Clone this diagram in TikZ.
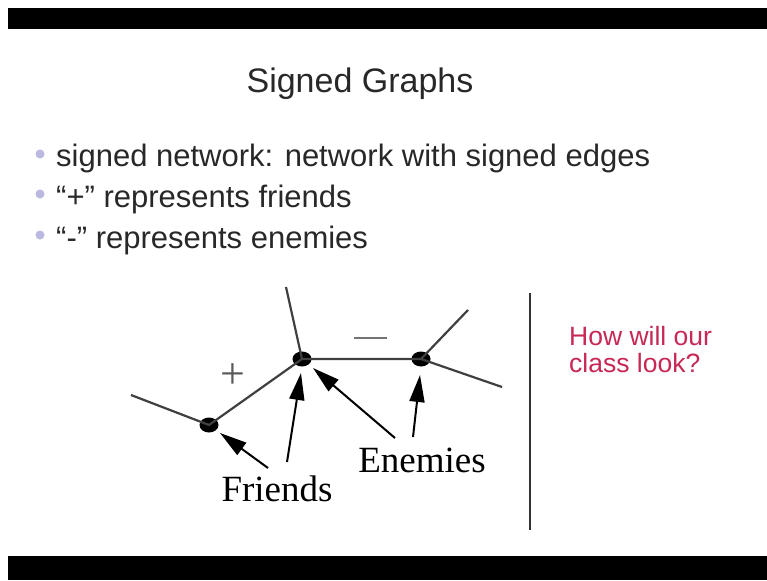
\documentclass[tikz,border=0pt]{standalone}
\usepackage{fontspec}
\setmainfont{Liberation Sans}
\newfontfamily\serifface{Liberation Serif}
\usetikzlibrary{arrows.meta,shapes.geometric}
\definecolor{txt}{RGB}{40,40,40}
\definecolor{bul}{RGB}{185,185,225}
\definecolor{ask}{RGB}{200,40,85}
\tikzset{
  bar/.style={fill=black,draw=none},
  bulletdot/.style={circle,fill=bul,inner sep=0pt,minimum size=9pt},
  bullettext/.style={anchor=base west,inner sep=0pt,text=txt,font=\fontsize{31}{36}\selectfont},
  asktext/.style={anchor=base west,inner sep=0pt,text=ask,font=\fontsize{26.5}{28}\selectfont},
  vert/.style={ellipse,fill=black,inner sep=0pt,minimum width=19pt,minimum height=15pt},
  edge/.style={draw=black!75,line width=2.2pt},
  pointer/.style={draw=black,line width=2pt,-{Triangle[length=27pt,width=15pt]}},
  lbl/.style={inner sep=0pt,font=\serifface\fontsize{37}{40}\selectfont},
  sign/.style={inner sep=0pt,text=black!65,font=\serifface\fontsize{44}{44}\selectfont}
}
\begin{document}
\begin{tikzpicture}[x=1pt,y=-1pt]
\useasboundingbox (0,0) rectangle (767,580);
\fill[white] (0,0) rectangle (767,580);
\fill[bar] (8,8) rectangle (767,29);
\fill[bar] (8,556) rectangle (767,580);
\node[anchor=base,text=txt,font=\fontsize{34}{40}\selectfont,inner sep=0pt] (title) at (360,93) {Signed Graphs};
\node[bulletdot] (b1) at (40,154) {};
\node[bullettext] (t1) at (56,167) {signed network: network with signed edges};
\node[bulletdot] (b2) at (40,194) {};
\node[bullettext] (t2) at (56,207) {“+\symbol{34} represents friends};
\node[bulletdot] (b3) at (40,235) {};
\node[bullettext] (t3) at (56,248) {“-\symbol{34} represents enemies};
% graph
\node[vert] (A) at (209,425) {};
\node[vert] (B) at (302,359) {};
\node[vert] (C) at (421,359) {};
\coordinate (Al) at (131,395);
\coordinate (Bu) at (286,287);
\coordinate (Cu) at (468,310);
\coordinate (Cd) at (502,387);
\draw[edge] (Al) -- (A.center) -- (B.center) -- (C.center) -- (Cu);
\draw[edge] (B.center) -- (Bu);
\draw[edge] (C.center) -- (Cd);
\node[sign] (plus) at (233,376) {+};
\draw[line width=1.6pt,black!55] (354,338) -- (387,338);
\node[lbl] (fr) at (277,489) {Friends};
\node[lbl] (en) at (422,460) {Enemies};
\coordinate (f1) at (268,468);
\coordinate (f2) at (287,462);
\coordinate (e1) at (395,438);
\coordinate (e2) at (413,437);
\draw[pointer] (f1) -- (220,433);
\draw[pointer] (f2) -- (301,373);
\draw[pointer] (e1) -- (313,368);
\draw[pointer] (e2) -- (420,375);
\draw[line width=2.2pt,black!80] (530,293) -- (530,530);
\node[asktext] (q1) at (569,345) {How will our};
\node[asktext] (q2) at (569,372) {class look?};
\end{tikzpicture}
\end{document}
